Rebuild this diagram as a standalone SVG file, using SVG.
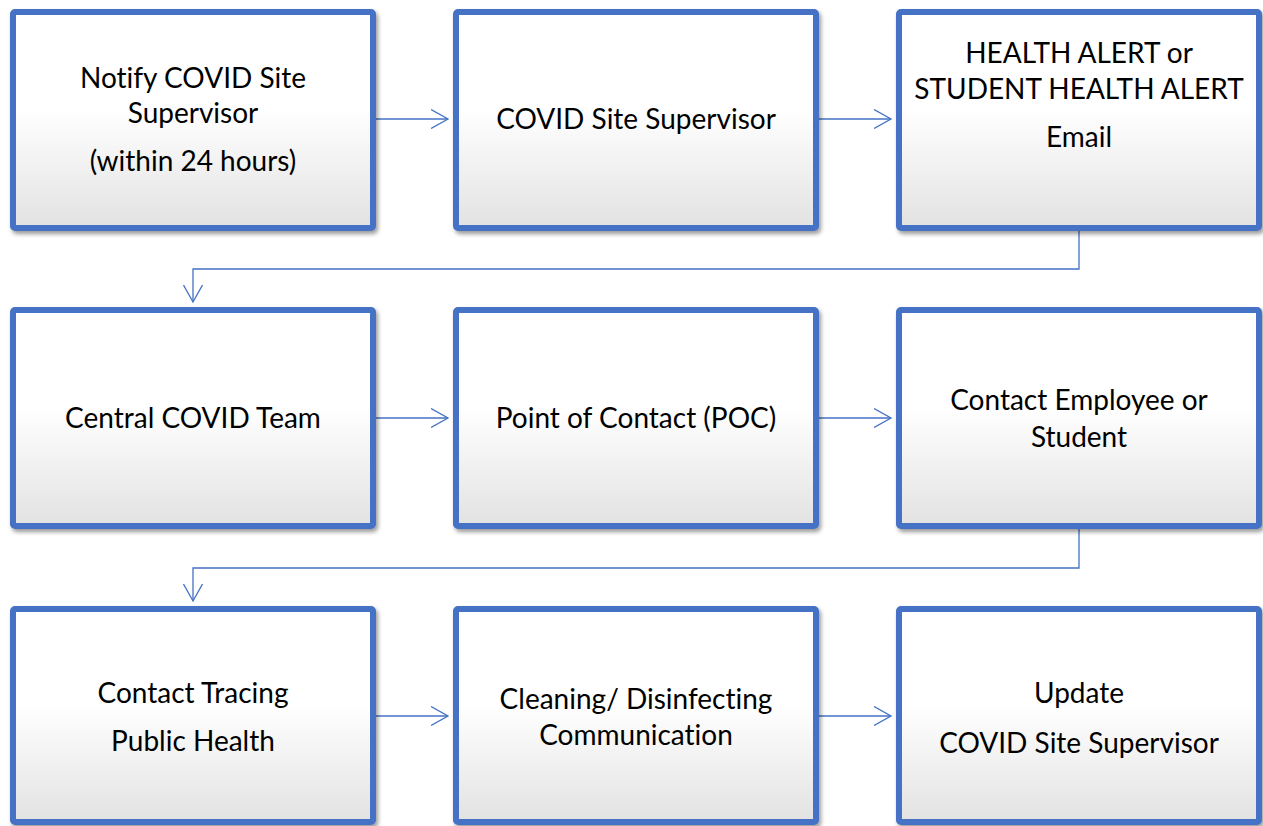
<svg xmlns="http://www.w3.org/2000/svg" width="1263" height="826" viewBox="0 0 1263 826">
  <defs>
    <linearGradient id="boxFill" x1="0" y1="0" x2="0" y2="1">
      <stop offset="0" stop-color="#ffffff"/>
      <stop offset="0.45" stop-color="#ffffff"/>
      <stop offset="1" stop-color="#e2e2e2"/>
    </linearGradient>
    <filter id="shadow" x="-5%" y="-5%" width="112%" height="115%">
      <feDropShadow dx="2" dy="3" stdDeviation="2" flood-color="#000" flood-opacity="0.4"/>
    </filter>
    <marker id="arrow" viewBox="0 0 20 20" refX="17" refY="10" markerWidth="20" markerHeight="20" markerUnits="userSpaceOnUse" orient="auto">
      <path d="M0,0.5 L17,10 L0,19.5" fill="none" stroke="#4472c4" stroke-width="1.3"/>
    </marker>
    <style>
      .box { fill: url(#boxFill); stroke: #4472c4; stroke-width: 6; filter: url(#shadow); }
      .label { font-family: Lato, "Open Sans", "Liberation Sans", sans-serif; font-size: 28px; fill: #000; text-anchor: middle; font-variant-ligatures: none; }
      .link { fill: none; stroke: #4472c4; stroke-width: 1.3; marker-end: url(#arrow); }
    </style>
  </defs>

  <rect width="1263" height="826" fill="#ffffff"/>

  <!-- connectors -->
  <g id="connectors">
    <path class="link" d="M376,119 H448"/>
    <path class="link" d="M819,119 H891"/>
    <path class="link" d="M1079,231 V269 H193 V302"/>
    <path class="link" d="M376,418 H448"/>
    <path class="link" d="M819,418 H891"/>
    <path class="link" d="M1079,529 V568 H193 V601"/>
    <path class="link" d="M376,716 H448"/>
    <path class="link" d="M819,716 H891"/>
  </g>

  <!-- row 1 -->
  <g id="notify-supervisor">
    <rect class="box" x="13" y="12" width="360" height="216" rx="2"/>
    <text class="label" x="193" y="88">Notify COVID Site</text>
    <text class="label" x="193" y="123">Supervisor</text>
    <text class="label" x="193" y="171">(within 24 hours)</text>
  </g>
  <g id="site-supervisor">
    <rect class="box" x="456" y="12" width="360" height="216" rx="2"/>
    <text class="label" x="636" y="129">COVID Site Supervisor</text>
  </g>
  <g id="health-alert-email">
    <rect class="box" x="899" y="12" width="360" height="216" rx="2"/>
    <text class="label" x="1079" y="63">HEALTH ALERT or</text>
    <text class="label" x="1079" y="99">STUDENT HEALTH ALERT</text>
    <text class="label" x="1079" y="147">Email</text>
  </g>

  <!-- row 2 -->
  <g id="central-team">
    <rect class="box" x="13" y="310" width="360" height="216" rx="2"/>
    <text class="label" x="193" y="428">Central COVID Team</text>
  </g>
  <g id="point-of-contact">
    <rect class="box" x="456" y="310" width="360" height="216" rx="2"/>
    <text class="label" x="636" y="428">Point of Contact (POC)</text>
  </g>
  <g id="contact-person">
    <rect class="box" x="899" y="310" width="360" height="216" rx="2"/>
    <text class="label" x="1079" y="410">Contact Employee or</text>
    <text class="label" x="1079" y="447">Student</text>
  </g>

  <!-- row 3 -->
  <g id="contact-tracing">
    <rect class="box" x="13" y="609" width="360" height="213" rx="2"/>
    <text class="label" x="193" y="703">Contact Tracing</text>
    <text class="label" x="193" y="751">Public Health</text>
  </g>
  <g id="cleaning">
    <rect class="box" x="456" y="609" width="360" height="213" rx="2"/>
    <text class="label" x="636" y="709">Cleaning/ Disinfecting</text>
    <text class="label" x="636" y="745">Communication</text>
  </g>
  <g id="update-supervisor">
    <rect class="box" x="899" y="609" width="360" height="213" rx="2"/>
    <text class="label" x="1079" y="703">Update</text>
    <text class="label" x="1079" y="753">COVID Site Supervisor</text>
  </g>
</svg>
